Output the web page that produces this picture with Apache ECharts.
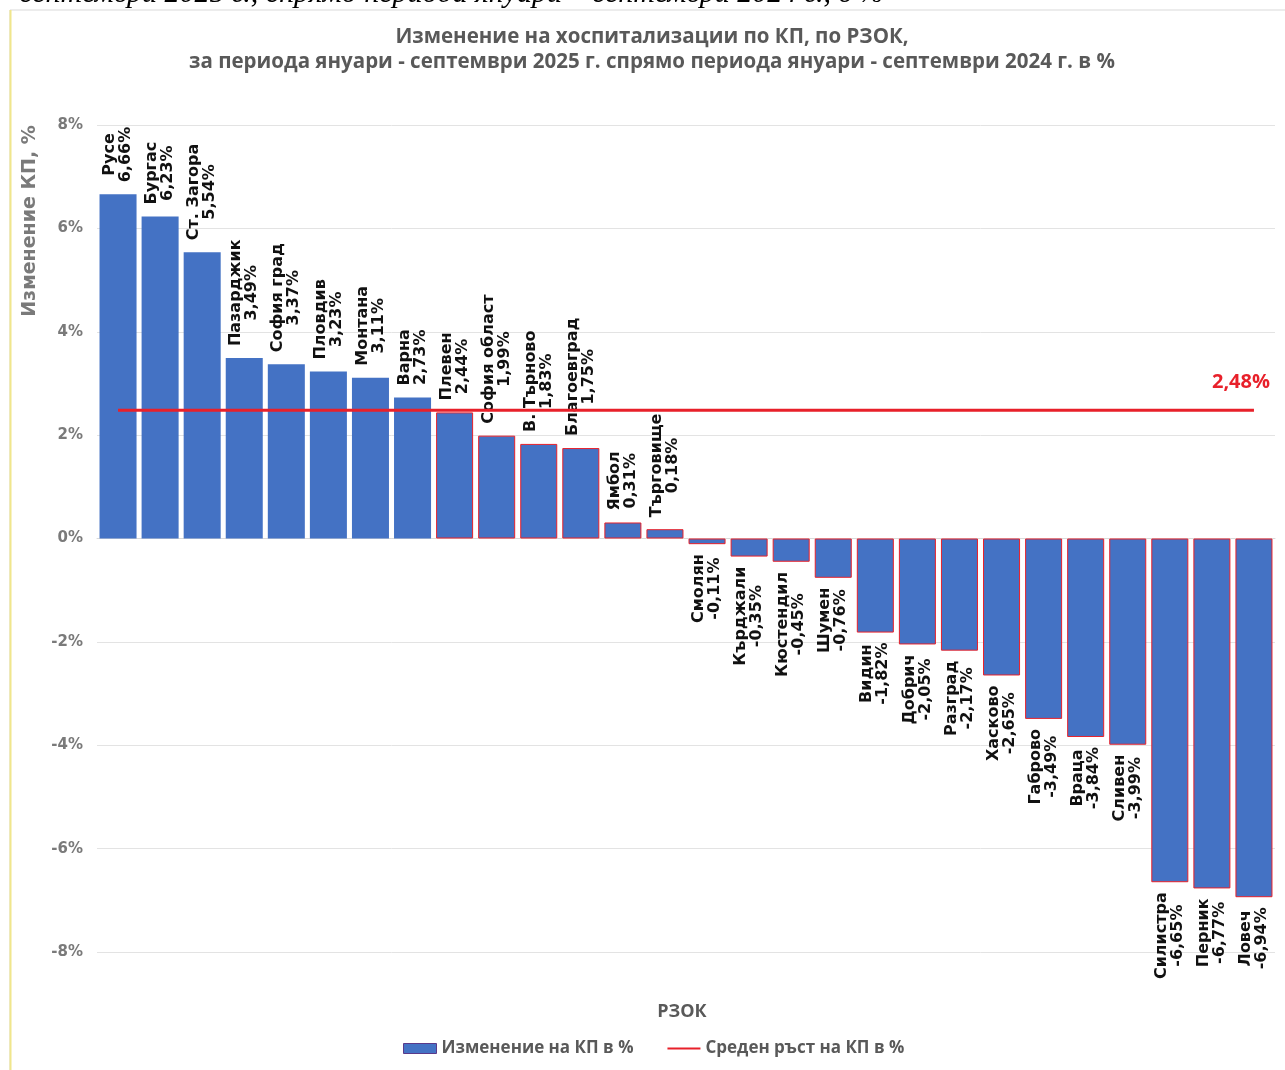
<!DOCTYPE html>
<html><head><meta charset="utf-8">
<script src="https://cdn.jsdelivr.net/npm/echarts@6/dist/echarts.min.js"></script>
<style>html,body{margin:0;padding:0;background:#fff}#c{width:1285px;height:1070px}</style>
</head><body><div id="c"></div>
<script>
const regions = ['Русе','Бургас','Ст. Загора','Пазарджик','София град','Пловдив','Монтана','Варна','Плевен','София област','В. Търново','Благоевград','Ямбол','Търговище','Смолян','Кърджали','Кюстендил','Шумен','Видин','Добрич','Разград','Хасково','Габрово','Враца','Сливен','Силистра','Перник','Ловеч'];
const changes = [6.66,6.23,5.54,3.49,3.37,3.23,3.11,2.73,2.44,1.99,1.83,1.75,0.31,0.18,-0.11,-0.35,-0.45,-0.76,-1.82,-2.05,-2.17,-2.65,-3.49,-3.84,-3.99,-6.65,-6.77,-6.94];
const averageGrowth = 2.48;
const yMin = -8, yMax = 8, yStep = 2;
const seriesNames = ['Изменение на КП в %', 'Среден ръст на КП в %'];
const titleLines = ['Изменение на хоспитализации по КП, по РЗОК,', 'за периода януари - септември 2025 г. спрямо периода януари - септември 2024 г. в %'];
const axisNameY = 'Изменение КП, %';
const axisNameX = 'РЗОК';
const pageText = 'септември 2025 г., спрямо периода януари – септември 2024 г., в %';

const fmt = v => v.toFixed(2).replace('.', ',') + '%';
const BLUE = '#4472C4', RED = '#E8202A', GRAY = '#595959', AXGRAY = '#7a7a7a';
const labelFont = 'DejaVu Sans';

const barData = changes.map((v, i) => {
  const pos = v >= 0;
  return {
    value: v,
    itemStyle: i >= 8 ? { borderColor: RED, borderWidth: 1 } : { borderWidth: 0 },
    label: {
      position: pos ? 'top' : 'bottom',
      align: pos ? 'left' : 'right',
      distance: pos ? 12 : 10
    }
  };
});

const lineData = regions.map(() => averageGrowth);

const chart = echarts.init(document.getElementById('c'), null, { renderer: 'canvas' });
chart.setOption({
  animation: false,
  backgroundColor: '#fff',
  grid: { left: 97, right: 10, top: 125, bottom: 118, containLabel: false },
  xAxis: {
    type: 'category', data: regions,
    axisLine: { show: true, lineStyle: { color: '#d9d9d9' } },
    axisTick: { show: false }, axisLabel: { show: false }
  },
  yAxis: {
    type: 'value', min: yMin, max: yMax, interval: yStep,
    axisLine: { show: false }, axisTick: { show: false },
    splitLine: { lineStyle: { color: '#e3e3e3', width: 1 } },
    axisLabel: { formatter: v => v + '%', color: AXGRAY, fontSize: 15, fontWeight: 'bold', fontFamily: labelFont, margin: 14 }
  },
  legend: {
    bottom: 8, left: 398, itemGap: 33, itemWidth: 33, itemHeight: 10, itemTextGap: 4,
    textStyle: { color: GRAY, fontSize: 17, fontWeight: 'bold', fontFamily: 'Open Sans' },
    data: [
      { name: seriesNames[0], icon: 'rect', itemStyle: { borderColor: '#5a3a8a', borderWidth: 1 } },
      { name: seriesNames[1], itemStyle: { opacity: 0 } }
    ]
  },
  series: [
    {
      name: seriesNames[0], type: 'bar', data: barData, barCategoryGap: '12%',
      itemStyle: { color: BLUE },
      label: {
        show: true, rotate: 90, verticalAlign: 'middle',
        formatter: p => '{n|' + p.name + '}\n{v|' + fmt(p.value) + '}',
        rich: {
          n: { align: 'center', fontSize: 16, fontWeight: 'bold', fontFamily: labelFont, color: '#111', lineHeight: 16 },
          v: { align: 'center', fontSize: 16, fontWeight: 'bold', fontFamily: labelFont, color: '#111', lineHeight: 16 }
        }
      },
      z: 2
    },
    {
      name: seriesNames[1], type: 'line', data: lineData, symbol: 'none',
      lineStyle: { color: RED, width: 3 }, itemStyle: { color: RED },
      endLabel: { show: true, formatter: () => fmt(averageGrowth), color: RED, fontWeight: 'bold', fontSize: 20, fontFamily: 'Open Sans', align: 'left', offset: [-50, -28] },
      z: 3
    }
  ],
  graphic: [
    { type: 'rect', shape: { x: 10, y: 10, width: 1290, height: 1080 }, style: { fill: 'none', stroke: '#d9d9d9', lineWidth: 1 }, z: -1 },
    { type: 'line', shape: { x1: 10.5, y1: 10, x2: 10.5, y2: 1070 }, style: { stroke: '#f0e68c', lineWidth: 2 }, z: -1 },
    { type: 'text', x: 884, y: -6, style: { text: pageText, align: 'right', verticalAlign: 'middle', fontSize: 30, fontStyle: 'italic', fontFamily: 'Liberation Serif', fill: '#000' } },
    { type: 'text', x: 652, y: 37, style: { text: titleLines[0], align: 'center', verticalAlign: 'middle', fontSize: 20.5, fontWeight: 'bold', fontFamily: 'Open Sans', fill: GRAY } },
    { type: 'text', x: 652, y: 62, style: { text: titleLines[1], align: 'center', verticalAlign: 'middle', fontSize: 20.5, fontWeight: 'bold', fontFamily: 'Open Sans', fill: GRAY } },
    { type: 'text', x: 30, y: 221, rotation: Math.PI / 2, style: { text: axisNameY, align: 'center', verticalAlign: 'middle', fontSize: 19, fontWeight: 'bold', fontFamily: labelFont, fill: AXGRAY } },
    { type: 'text', x: 682, y: 1012, style: { text: axisNameX, align: 'center', verticalAlign: 'middle', fontSize: 18, fontWeight: 'bold', fontFamily: 'Open Sans', fill: GRAY } }
  ]
});
</script></body></html>
